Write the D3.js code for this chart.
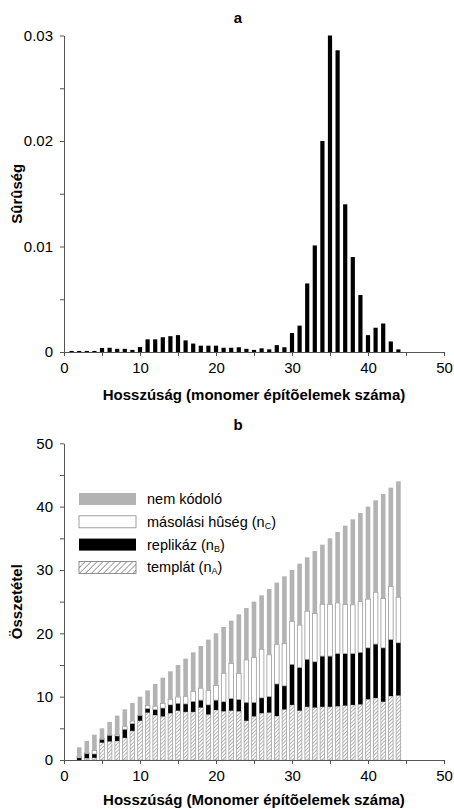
<!DOCTYPE html>
<html>
<head>
<meta charset="utf-8">
<script src="https://cdn.jsdelivr.net/npm/d3@7"></script>
<style>
  body { margin: 0; background: #fff; }
  text { font-family: "Liberation Sans", Arial, Helvetica, sans-serif; }
</style>
</head>
<body>
<svg id="chart" width="454" height="809"></svg>
<script>
// panel a: length distribution
const densityLengths = [1,2,3,4,5,6,7,8,9,10,11,12,13,14,15,16,17,18,19,20,21,22,
  23,24,25,26,27,28,29,30,31,32,33,34,35,36,37,38,39,40,41,42,43,44];
const density = [0.0001,0.0001,0.0001,0.0001,0.00038,0.0004,0.0003,0.0003,0.0002,0.00047,
  0.0012,0.0012,0.0014,0.0015,0.0016,0.0011,0.0008,0.0006,0.0006,0.0006,
  0.0004,0.0004,0.00045,0.0003,0.0002,0.00035,0.00025,0.00065,0.00045,0.0018,
  0.0025,0.0065,0.0101,0.0200,0.0300,0.0286,0.0140,0.0090,0.0054,0.0016,
  0.0023,0.0027,0.0010,0.00025];

// panel b: composition per length
const compLengths = [2,3,4,5,6,7,8,9,10,11,12,13,14,15,16,17,18,19,20,21,22,23,
  24,25,26,27,28,29,30,31,32,33,34,35,36,37,38,39,40,41,42,43,44];
const templat = [0,0.3,0.35,2.75,2.95,3.0,3.5,4.6,6.2,7.5,7.1,6.9,7.4,7.8,7.6,7.6,8.3,7.2,7.9,7.7,7.8,7.7,
  6.2,6.9,7.4,7.5,6.95,8.0,8.7,7.8,8.4,8.3,8.4,8.4,8.5,8.6,8.7,8.8,9.6,9.8,9.2,10.1,10.2];
const replikaz = [0.35,0.7,0.6,0.5,0.95,0.8,1.35,1.15,0.8,0.6,0.85,1.3,1.3,1.15,1.25,1.65,1.15,1.5,1.55,1.5,1.9,1.85,
  2.9,2.2,2.4,2.5,5.05,3.7,6.4,6.8,7.5,7.2,8.0,8.0,8.3,8.2,8.1,8.2,8.1,8.5,8.5,8.9,8.3];
const huseg = [0.25,0.15,0.55,0.15,0.1,0.2,0.4,0.4,0.05,0.5,0.55,0.7,0.9,1.0,1.15,1.55,1.9,2.25,2.3,4.5,5.55,4.15,
  6.7,7.1,7.7,6.6,6.2,6.7,6.8,6.7,7.6,7.65,8.2,8.15,8.0,7.75,7.7,8.0,7.7,8.2,7.8,8.4,7.2];
const nemKodolo = [1.4,1.85,2.5,1.6,2.0,3.0,2.75,2.85,2.95,2.4,3.5,4.1,4.4,5.05,6.0,6.2,6.65,8.05,8.25,7.3,6.75,9.3,
  8.2,8.8,8.5,10.4,9.8,10.6,8.1,9.7,8.5,9.85,9.4,10.45,11.2,12.45,13.5,14.0,14.6,14.5,16.5,15.6,18.3];

const seriesKeys = ['templat', 'replikaz', 'huseg', 'nemKodolo'];
// legend rows, top to bottom
const legendItems = [
  { key: 'nemKodolo', label: 'nem kódoló', sub: '' },
  { key: 'huseg', label: 'másolási hûség (n', sub: 'C' },
  { key: 'replikaz', label: 'replikáz (n', sub: 'B' },
  { key: 'templat', label: 'templát (n', sub: 'A' }
];

const grey = '#b3b3b3',
      axisColor = '#555';

const svg = d3.select('#chart');

// hatch patterns
const defs = svg.append('defs');
function hatch(id, gap, width){
  const p = defs.append('pattern')
    .attr('id', id)
    .attr('patternUnits', 'userSpaceOnUse')
    .attr('width', gap).attr('height', 10)
    .attr('patternTransform', 'rotate(45)');
  p.append('rect').attr('width', gap).attr('height', 10).attr('fill', '#fff');
  p.append('line').attr('x1', 0).attr('y1', 0).attr('x2', 0).attr('y2', 10)
    .attr('stroke', '#333').attr('stroke-width', width);
}
hatch('hatch', 2.6, 0.75);
hatch('hatchLegend', 4.2, 0.9);

const fills = { templat: 'url(#hatch)', replikaz: '#000', huseg: '#fff', nemKodolo: grey };
const strokes = { templat: '#999', replikaz: 'none', huseg: '#8a8a8a', nemKodolo: 'none' };

function styleAxis(g){
  g.select('.domain').attr('stroke', axisColor);
  g.selectAll('.tick line').attr('stroke', axisColor);
  g.selectAll('.tick text').attr('fill', '#000').style('font-size', '15px')
    .style('font-family', '"Liberation Sans", Arial, sans-serif');
}

function drawAxes(x, y, yTicks, yFormat){
  const xAxis = d3.axisBottom(x)
    .tickValues([0,5,10,15,20,25,30,35,40,45,50])
    .tickFormat(d => d % 10 === 0 ? d : '')
    .tickSize(4).tickPadding(6).tickSizeOuter(0);
  const yAxis = d3.axisLeft(y)
    .tickValues(yTicks)
    .tickFormat(yFormat)
    .tickSize(4).tickPadding(7).tickSizeOuter(0);
  svg.append('g').attr('transform', `translate(0,${y.range()[0]})`).call(xAxis).call(styleAxis);
  svg.append('g').attr('transform', `translate(${x.range()[0]},0)`).call(yAxis).call(styleAxis);
}

function labels(title, titleY, xTitle, xTitleY, yTitle, y){
  const cy = (y.range()[0] + y.range()[1]) / 2;
  svg.append('text').attr('x', 238).attr('y', titleY).attr('text-anchor', 'middle')
    .style('font-size', '15px').style('font-weight', 'bold').text(title);
  svg.append('text').attr('x', 254).attr('y', xTitleY).attr('text-anchor', 'middle')
    .style('font-size', '15px').style('font-weight', 'bold').text(xTitle);
  svg.append('text').attr('transform', `translate(22,${cy}) rotate(-90)`).attr('text-anchor', 'middle')
    .style('font-size', '15px').style('font-weight', 'bold').text(yTitle);
}

// ---------- panel a ----------
const xA = d3.scaleLinear().domain([0, 50]).range([64, 444]);
const yA = d3.scaleLinear().domain([0, 0.03]).range([352, 35.5]);
const barA = 4.2;

svg.append('g').selectAll('rect')
  .data(densityLengths)
  .join('rect')
    .attr('x', (d) => xA(d) - barA / 2)
    .attr('width', barA)
    .attr('y', (d, i) => yA(density[i]))
    .attr('height', (d, i) => yA(0) - yA(density[i]))
    .attr('fill', '#000');

drawAxes(xA, yA, [0,0.005,0.01,0.015,0.02,0.025,0.03],
  d => d === 0 ? '0' : (Math.round(d * 1000) % 10 === 0 ? d3.format('.2f')(d) : ''));
labels('a', 23, 'Hosszúság (monomer építõelemek száma)', 400, 'Sûrûség', yA);

// ---------- panel b ----------
const xB = d3.scaleLinear().domain([0, 50]).range([64, 444]);
const yB = d3.scaleLinear().domain([0, 50]).range([760, 443.3]);
const barB = 4.6;

const rows = compLengths.map((len, i) => ({
  len, templat: templat[i], replikaz: replikaz[i], huseg: huseg[i], nemKodolo: nemKodolo[i]
}));
const stacked = d3.stack().keys(seriesKeys)(rows);

svg.append('g').selectAll('g')
  .data(stacked)
  .join('g')
    .attr('fill', s => fills[s.key])
    .attr('stroke', s => strokes[s.key])
    .attr('stroke-width', 0.7)
  .selectAll('rect')
  .data(s => s)
  .join('rect')
    .attr('x', d => xB(d.data.len) - barB / 2)
    .attr('width', barB)
    .attr('y', d => yB(d[1]))
    .attr('height', d => yB(d[0]) - yB(d[1]));

drawAxes(xB, yB, [0,5,10,15,20,25,30,35,40,45,50], d => d % 10 === 0 ? d : '');
labels('b', 430, 'Hosszúság (Monomer építõelemek száma)', 805, 'Összetétel', yB);

// legend
const legend = svg.append('g').attr('transform', 'translate(79,493)');
const row = legend.selectAll('g')
  .data(legendItems)
  .join('g')
    .attr('transform', (d, i) => `translate(0,${i * 22.8})`);
row.append('rect')
  .attr('width', 57).attr('height', 12)
  .attr('fill', d => d.key === 'templat' ? 'url(#hatchLegend)' : fills[d.key])
  .attr('stroke', d => d.key === 'templat' ? '#777' : (d.key === 'huseg' ? '#8a8a8a' : 'none'))
  .attr('stroke-width', 0.8);
const lt = row.append('text')
  .attr('x', 68).attr('y', 11)
  .style('font-size', '14.5px');
lt.append('tspan').text(d => d.label);
lt.filter(d => d.sub).append('tspan')
  .attr('dy', 2).style('font-size', '9px').text(d => d.sub);
lt.filter(d => d.sub).append('tspan')
  .attr('dy', -2).text(')');
</script>
</body>
</html>
